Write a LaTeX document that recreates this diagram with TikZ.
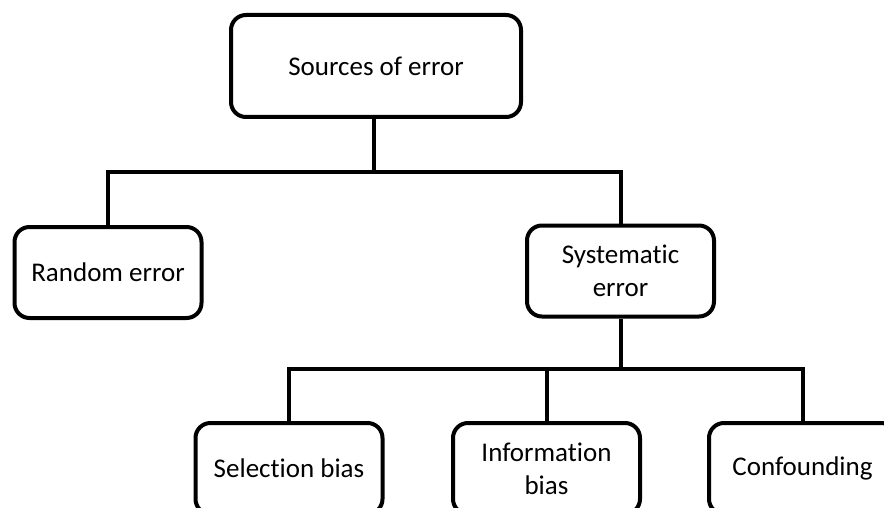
\documentclass[tikz,border=0pt]{standalone}
\usepackage{fontspec}
\setmainfont[Ligatures=NoCommon]{Carlito}
\usetikzlibrary{positioning}

\begin{document}
\begin{tikzpicture}[x=0.5pt,y=-0.5pt,
        errbox/.style={draw, line width=2pt, rounded corners=7.5pt,
            minimum width=93.5pt, minimum height=45.5pt, align=center,
            font=\fontsize{13.5}{16.5}\selectfont},
        branch/.style={line width=2pt}]
            \useasboundingbox (0,0) rectangle (884,508);

            \node[errbox, minimum width=145pt, minimum height=51pt] (src) at (376,66) {Sources of error};

            \node[errbox] (rand) at (108,272.5) {Random error};
            \node[errbox] (sys) at (620.5,271) {Systematic\\error};

            \node[errbox] (sel) at (289,468.5) {Selection bias};
            \node[errbox] (info) at (546.5,468.5) {Information\\bias};
            \node[errbox] (conf) at (802.5,468.5) {Confounding};

            \coordinate (fstsplit) at (374,172);
            \coordinate (sndsplit) at (620.5,369);

            \draw[branch] (src.south -| fstsplit) -- (fstsplit);
            \draw[branch] (rand.north) |- (fstsplit) -| (sys.north);

            \draw[branch] (sys.south) -- (sndsplit);
            \draw[branch] (sel.north) |- (sndsplit) -| (conf.north);
            \draw[branch] (info.north) -- (info.north |- sndsplit);
\end{tikzpicture}
\end{document}
